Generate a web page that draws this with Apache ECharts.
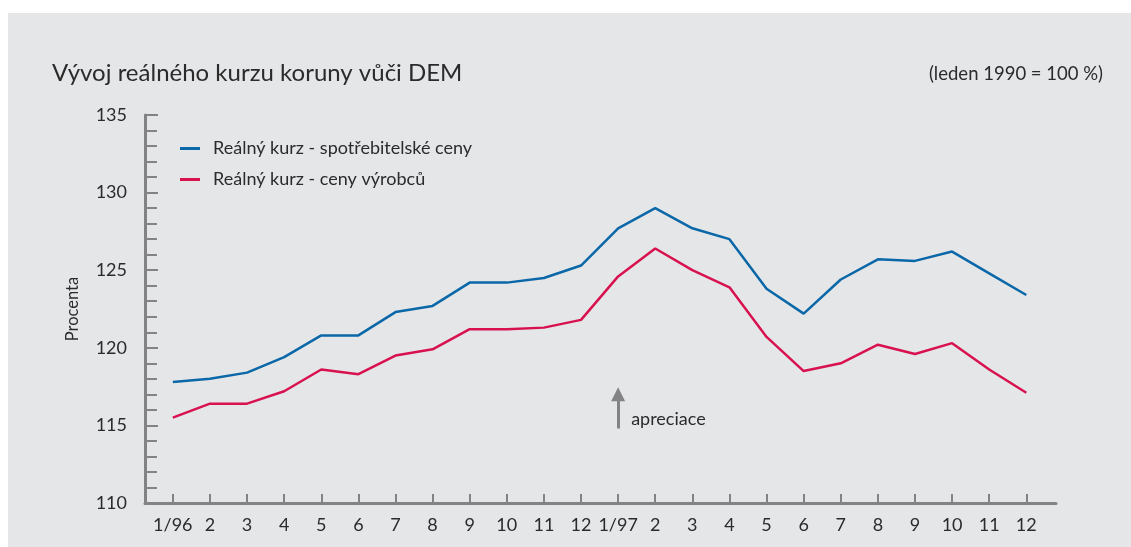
<!DOCTYPE html>
<html>
<head>
<meta charset="utf-8">
<script src="https://cdn.jsdelivr.net/npm/echarts@6/dist/echarts.min.js"></script>
<style>
  html, body { margin: 0; padding: 0; background: #fff; }
  #panel { position: absolute; left: 8px; top: 13px; width: 1123px; height: 534px; background: #e5e6e8; }
  #chart { position: absolute; left: 0; top: 0; width: 1131px; height: 547px; }
</style>
</head>
<body>
<div id="panel"></div>
<div id="chart"></div>
<script>
// mesice 1/96 .. 12/97
const months = ["1/96", "2", "3", "4", "5", "6", "7", "8", "9", "10", "11", "12",
  "1/97", "2", "3", "4", "5", "6", "7", "8", "9", "10", "11", "12"];

// realny kurz - spotrebitelske ceny
const cpiValues = [117.8, 118.0, 118.4, 119.4, 120.8, 120.8, 122.3, 122.7, 124.2, 124.2, 124.5, 125.3,
  127.7, 129.0, 127.7, 127.0, 123.8, 122.2, 124.4, 125.7, 125.6, 126.2, 124.8, 123.4];

// realny kurz - ceny vyrobcu
const ppiValues = [115.5, 116.4, 116.4, 117.2, 118.6, 118.3, 119.5, 119.9, 121.2, 121.2, 121.3, 121.8,
  124.6, 126.4, 125.0, 123.9, 120.7, 118.5, 119.0, 120.2, 119.6, 120.3, 118.6, 117.1];

const yTicks = [110, 115, 120, 125, 130, 135];

const seriesNames = ["Reálný kurz - spotřebitelské ceny", "Reálný kurz - ceny výrobců"];
const colors = ["#0a67a8", "#d8124f"];
const axisGray = "#838385";
const textColor = "#2b2b2b";
const font = "Lato, 'Open Sans', sans-serif";

const chart = echarts.init(document.getElementById("chart"));

const idx = months.map((m, i) => i);

const option = {
  backgroundColor: "transparent",
  animation: false,
  title: [
    {
      text: "Vývoj reálného kurzu koruny vůči DEM",
      left: 47,
      top: 56,
      textStyle: { fontFamily: font, fontSize: 24, fontWeight: "normal", color: textColor },
    },
    {
      text: "(leden 1990 = 100 %)",
      right: 23,
      top: 60,
      textStyle: { fontFamily: font, fontSize: 18.5, fontWeight: "normal", color: textColor },
    },
  ],
  legend: {
    orient: "vertical",
    left: 175,
    top: 133,
    icon: "rect",
    itemWidth: 20,
    itemHeight: 3,
    itemGap: 10,
    data: seriesNames,
    textStyle: { fontFamily: font, fontSize: 18, lineHeight: 21, color: textColor, padding: [0, 0, 0, 8] },
  },
  grid: {
    left: 145,
    right: 75,
    top: 115,
    bottom: 44,
  },
  xAxis: {
    type: "value",
    min: -0.75,
    max: 23.8,
    splitLine: { show: false },
    axisLine: { onZero: false, lineStyle: { color: axisGray, width: 3 } },
    axisTick: {
      inside: true,
      length: 9,
      lineStyle: { color: axisGray, width: 2 },
      customValues: idx,
    },
    axisLabel: {
      customValues: idx,
      margin: 13,
      fontFamily: font,
      fontSize: 18,
      color: textColor,
      formatter: (v) => months[v],
    },
  },
  yAxis: {
    type: "value",
    min: yTicks[0],
    max: yTicks[yTicks.length - 1],
    interval: 5,
    name: "Procenta",
    nameLocation: "middle",
    nameRotate: 90,
    nameGap: 64,
    nameTextStyle: { fontFamily: font, fontSize: 16.5, color: textColor },
    splitLine: { show: false },
    axisLine: { show: true, onZero: false, lineStyle: { color: axisGray, width: 3 } },
    axisTick: { show: true, inside: true, length: 13, lineStyle: { color: axisGray, width: 2 } },
    minorTick: { show: true, splitNumber: 5, length: 12, lineStyle: { color: axisGray, width: 2 } },
    axisLabel: { margin: 18, fontFamily: font, fontSize: 18, color: textColor },
  },
  series: [
    {
      name: seriesNames[0],
      type: "line",
      symbol: "none",
      data: cpiValues.map((v, i) => [i, v]),
      lineStyle: { width: 2.5, color: colors[0] },
      itemStyle: { color: colors[0] },
    },
    {
      name: seriesNames[1],
      type: "line",
      symbol: "none",
      data: ppiValues.map((v, i) => [i, v]),
      lineStyle: { width: 2.5, color: colors[1] },
      itemStyle: { color: colors[1] },
      // sipka "apreciace" u 1/97
      markLine: {
        silent: true,
        symbol: ["none", "triangle"],
        symbolSize: 14,
        label: { show: false },
        lineStyle: { type: "solid", color: axisGray, width: 3 },
        data: [[{ coord: [12, 114.8] }, { coord: [12, 117.0] }]],
      },
      markPoint: {
        silent: true,
        symbol: "circle",
        symbolSize: 0,
        data: [{ coord: [12, 115.4], value: "apreciace" }],
        label: {
          show: true,
          position: "right",
          distance: 13,
          formatter: "apreciace",
          fontFamily: font,
          fontSize: 18,
          color: textColor,
        },
      },
    },
  ],
};

chart.setOption(option);
</script>
</body>
</html>
